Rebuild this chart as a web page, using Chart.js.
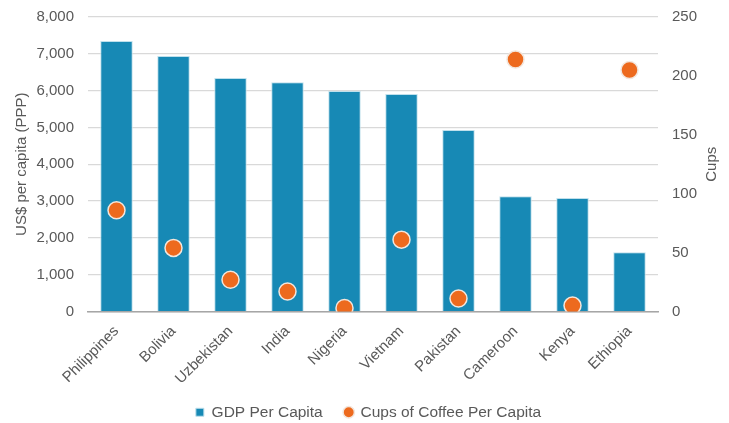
<!DOCTYPE html>
<html>
<head>
<meta charset="utf-8">
<script src="https://cdn.jsdelivr.net/npm/chart.js@4"></script>
<style>
  html, body { margin: 0; padding: 0; background: #fff; }
  #wrap { width: 729px; height: 423px; }
</style>
</head>
<body>
<div id="wrap"><canvas id="chart"></canvas></div>
<script>
// data
const countries = ['Philippines', 'Bolivia', 'Uzbekistan', 'India', 'Nigeria', 'Vietnam', 'Pakistan', 'Cameroon', 'Kenya', 'Ethiopia'];
const gdpPerCapita = [7350, 6940, 6340, 6230, 5990, 5910, 4930, 3130, 3080, 1610];
const cupsPerCapita = [86, 54, 27, 17, 3, 61, 11, 214, 5, 205];

const grey = '#595959';
const family = '"Liberation Sans", Arial, sans-serif';
const font = { family: family, size: 15 };

// both axis titles read bottom-to-top, drawn by hand so they sit where the reference has them
const axisTitles = {
  id: 'axisTitles',
  afterDraw(chart) {
    const c = chart.ctx;
    const a = chart.chartArea;
    const mid = (a.top + a.bottom) / 2;
    c.save();
    c.fillStyle = grey;
    c.font = '15px ' + family;
    c.textAlign = 'center';
    c.textBaseline = 'middle';
    [[22, 'US$ per capita (PPP)'], [712, 'Cups']].forEach(([x, txt]) => {
      c.save();
      c.translate(x, mid);
      c.rotate(-Math.PI / 2);
      c.fillText(txt, 0, 0);
      c.restore();
    });
    c.restore();
  }
};

function noPad(s) {
  s.paddingTop = 0; s.paddingBottom = 0; s.paddingLeft = 0; s.paddingRight = 0;
}

const ctx = document.getElementById('chart').getContext('2d');
new Chart(ctx, {
  data: {
    labels: countries,
    datasets: [
      {
        type: 'line',
        label: 'Cups of Coffee Per Capita',
        data: cupsPerCapita,
        yAxisID: 'y1',
        showLine: false,
        pointStyle: 'circle',
        pointRadius: 8.5,
        pointBackgroundColor: '#ED6A1E',
        pointBorderColor: '#f3e6dc',
        pointBorderWidth: 1.5,
        backgroundColor: '#ED6A1E',
        borderColor: '#ED6A1E',
        order: 0
      },
      {
        type: 'bar',
        label: 'GDP Per Capita',
        data: gdpPerCapita,
        yAxisID: 'y',
        backgroundColor: '#1789B5',
        borderColor: '#bfe0ec',
        borderWidth: 1,
        categoryPercentage: 1,
        barPercentage: 0.57,
        pointStyle: 'rect',
        order: 1
      }
    ]
  },
  options: {
    responsive: true,
    maintainAspectRatio: false,
    animation: false,
    layout: { autoPadding: false, padding: { left: 8, right: 0, top: 17, bottom: -7 } },
    plugins: {
      tooltip: { enabled: false },
      legend: {
        position: 'bottom',
        reverse: true,
        labels: {
          usePointStyle: true,
          boxWidth: 8,
          boxHeight: 8,
          padding: 22,
          color: grey,
          font: { family: family, size: 15.5 }
        }
      }
    },
    scales: {
      x: {
        grid: { display: false },
        border: { color: '#a6a6a6', width: 1.5 },
        ticks: { color: grey, font: font, maxRotation: 45, minRotation: 45, autoSkip: false },
        afterFit: s => { s.height = 71; noPad(s); }
      },
      y: {
        position: 'left',
        min: 0, max: 8000,
        ticks: { stepSize: 1000, color: grey, font: font, padding: 14 },
        grid: { color: '#d9d9d9', drawTicks: false, lineWidth: 1.2 },
        border: { display: false },
        afterFit: s => { s.width = 80; noPad(s); }
      },
      y1: {
        position: 'right',
        min: 0, max: 250,
        ticks: { stepSize: 50, color: grey, font: font, padding: 14 },
        grid: { display: false, drawTicks: false },
        border: { display: false },
        afterFit: s => { s.width = 71; noPad(s); }
      }
    }
  },
  plugins: [axisTitles]
});
</script>
</body>
</html>
